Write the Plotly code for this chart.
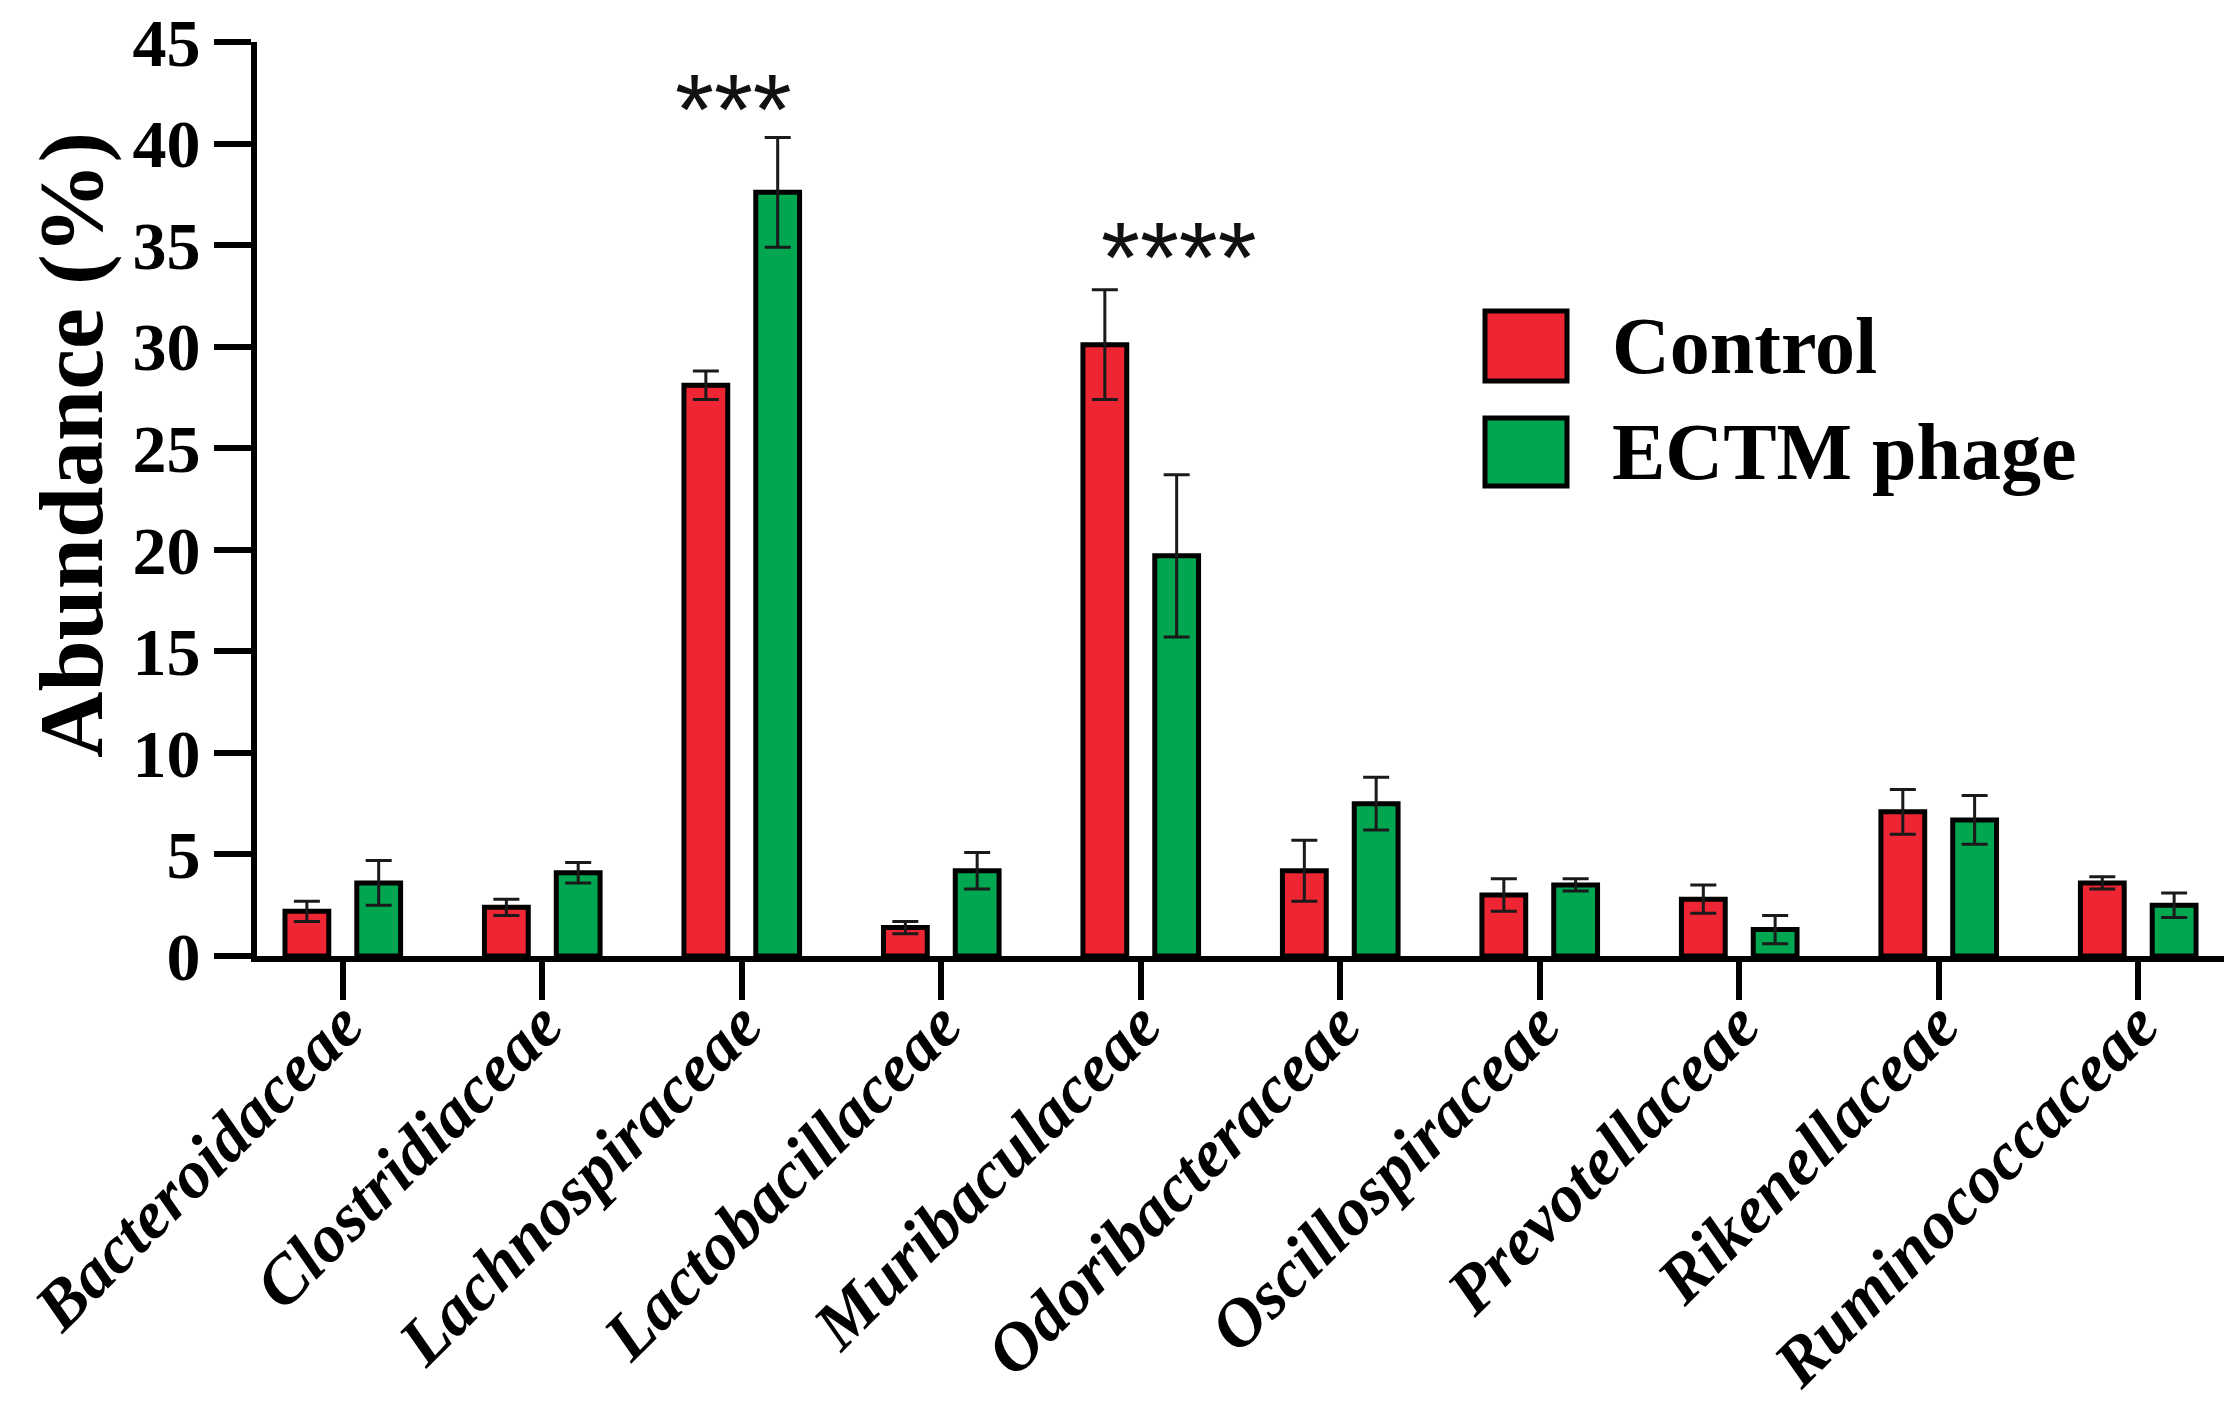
import plotly.graph_objects as go

families = ["Bacteroidaceae", "Clostridiaceae", "Lachnospiraceae", "Lactobacillaceae",
            "Muribaculaceae", "Odoribacteraceae", "Oscillospiraceae", "Prevotellaceae",
            "Rikenellaceae", "Ruminococcaceae"]
control = [2.2, 2.4, 28.1, 1.4, 30.1, 4.2, 3.0, 2.8, 7.1, 3.6]
control_err = [0.5, 0.4, 0.7, 0.3, 2.7, 1.5, 0.8, 0.7, 1.1, 0.3]
phage = [3.6, 4.1, 37.6, 4.2, 19.7, 7.5, 3.5, 1.3, 6.7, 2.5]
phage_err = [1.1, 0.5, 2.7, 0.9, 4.0, 1.3, 0.3, 0.7, 1.2, 0.6]
series_names = ["Control", "ECTM phage"]
sig_labels = ["***", "****"]
sig_x = [1.96, 4.19]
sig_y = [41.7, 34.4]
y_ticks = [0, 5, 10, 15, 20, 25, 30, 35, 40, 45]
y_title = "Abundance (%)"

RED = "#EE2532"
GREEN = "#00A650"
W, H = 2238, 1420
ML, MR, MT, MB = 257, 14, 42, 464

def px(x):
    return (x - ML) / (W - ML - MR)

def py(y):
    return (H - MB - y) / (H - MT - MB)

fig = go.Figure()
for name, vals, errs, col in [(series_names[0], control, control_err, RED),
                              (series_names[1], phage, phage_err, GREEN)]:
    fig.add_trace(go.Bar(
        x=families, y=vals, name=name,
        marker=dict(color=col, line=dict(color="black", width=5)),
        error_y=dict(type="data", array=errs, visible=True, color="#1a1a1a",
                     thickness=3, width=13),
        showlegend=False,
    ))

for lab, xv, yv in zip(sig_labels, sig_x, sig_y):
    fig.add_annotation(x=xv, y=yv, xref="x", yref="y", text=lab, showarrow=False,
                       font=dict(family="Liberation Sans", size=100, color="#111111"),
                       xanchor="center", yanchor="middle")

# y-axis title
fig.add_annotation(xref="paper", yref="paper", x=px(71), y=py(445), text=y_title,
                   textangle=-90, showarrow=False, xanchor="center", yanchor="middle",
                   font=dict(family="Liberation Serif", size=92, color="black", weight="bold"))

# manual legend
boxes = [(311, 381), (418, 486)]
for (y0, y1), col, name in zip(boxes, [RED, GREEN], series_names):
    fig.add_shape(type="rect", xref="paper", yref="paper",
                  x0=px(1485), x1=px(1567), y0=py(y1), y1=py(y0),
                  fillcolor=col, line=dict(color="black", width=5))
    fig.add_annotation(xref="paper", yref="paper", x=px(1610), y=py((y0 + y1) / 2),
                       text=name, showarrow=False, xanchor="left", yanchor="middle",
                       font=dict(family="Liberation Serif", size=80, color="black", weight="bold"))

fig.update_layout(
    width=W, height=H,
    margin=dict(l=ML, r=MR, t=MT, b=MB, autoexpand=False),
    paper_bgcolor="white", plot_bgcolor="white",
    barmode="group", bargap=0.28, bargroupgap=0.39,
    showlegend=False,
)
fig.update_xaxes(
    range=[-0.43, 9.43], showline=True, linecolor="black", linewidth=6,
    ticks="outside", ticklen=38, tickwidth=6, tickcolor="black",
    tickangle=-45, ticklabelstandoff=-42, showgrid=False, zeroline=False,
    tickfont=dict(family="Liberation Serif", size=68, color="black",
                  weight="bold", style="italic"),
)
fig.update_yaxes(
    range=[0, 45], tickvals=y_ticks, showline=True, linecolor="black", linewidth=6,
    ticks="outside", ticklen=37, tickwidth=6, tickcolor="black",
    showgrid=False, zeroline=False,
    tickfont=dict(family="Liberation Serif", size=68, color="black", weight="bold"),
)
fig.write_html("out.html")
